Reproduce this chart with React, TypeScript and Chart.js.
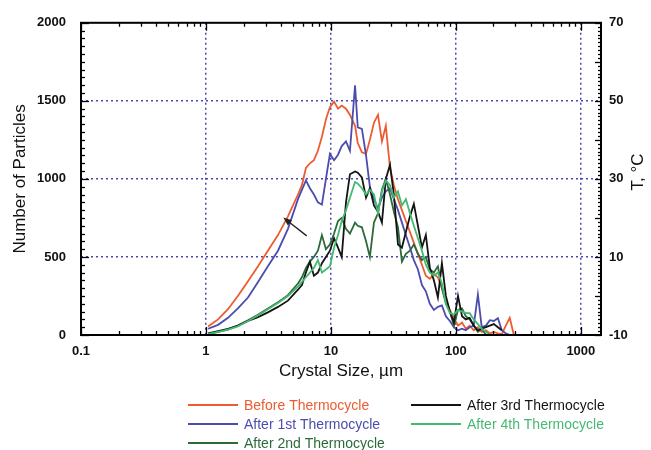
import React, { useEffect, useRef } from "react";
import { Chart, registerables } from "chart.js";

Chart.register(...registerables);

// Crystal size bins (µm)
const sizes = [
  1.04, 1.25, 1.5, 1.8, 2.17, 2.61, 3.13, 3.77, 4.53, 5.45,
  5.86, 6.31, 6.79, 7.31, 7.87, 8.47, 9.12, 9.82, 10.6, 11.4,
  12.2, 13.2, 14.2, 15.6, 16.4, 17.7, 19.1, 20.5, 22.1, 23.8,
  25.6, 27.5, 29.7, 31.9, 34.4, 37.0, 39.8, 42.9, 46.1, 49.7,
  53.5, 57.5, 61.9, 66.7, 71.8, 77.3, 83.2, 89.5, 96.4, 104,
  112, 120, 129, 139, 150, 161, 174, 187, 201, 217,
  233, 251, 270, 291,
];

const beforeThermocycle = [
  55, 100, 165, 250, 345, 440, 540, 640, 760, 900,
  960, 1070, 1100, 1120, 1180, 1270, 1380, 1460, 1495, 1450,
  1470, 1450, 1410, 1340, 1230, 1170, 1160, 1250, 1360, 1410,
  1240, 1340, 1070, 960, 870, 800, 730, 660, 590, 520,
  450, 380, 360, 390, 370, 300, 220, 160, 110, 60,
  80, 40, 60, 30, 50, 20, 30, 10, 20, 10,
  5, 60, 110, 0,
];

const after1st = [
  40, 65, 110, 170, 240, 340, 440, 540, 680, 870,
  930, 990, 940, 900, 850, 835, 1000, 1160, 1120, 1155,
  1210, 1240, 1180, 1600, 1330, 1320, 1150, 950, 870, 810,
  880, 920, 940, 870, 800, 720, 640, 560, 480, 420,
  320, 280, 200, 160, 180, 190, 120, 90, 50, 30,
  40, 30, 50, 60, 260, 50, 60, 95, 90, 108,
  30, 10, 0, null,
];

const after2nd = [
  5, 20, 35, 60, 95, 130, 170, 210, 255, 330,
  370, 430, 470, 500, 540, 640, 550, 580, 650, 730,
  750, 680, 650, 720, 700, 690, 600, 500, 720, 780,
  930, 1000, 900, 790, 690, 470, 520, 540, 580, 520,
  480, 500, 420, 400, 440, 300, 200, 150, 60, 160,
  170, 120, 100, 60, 20, 40, 0, null, null, null,
  null, null, null, null,
];

const after3rd = [
  10, 25, 40, 60, 90, 115, 145, 180, 220, 290,
  320, 400, 470, 380, 400, 460, 500, 540, 620, 560,
  500, 850, 1030, 1048, 1040, 1010, 880, 940, 830, 790,
  720, 1000, 1090, 900, 580, 560, 660, 760, 840, 700,
  560, 640, 430, 350, 240, 460, 250, 150, 80, 250,
  120, 100, 110, 60, 30, 40, 50, 60, 70, 50,
  30, null, null, null,
];

const after4th = [
  5, 20, 35, 55, 90, 125, 165, 205, 250, 310,
  340, 370, 400, 430, 480, 400, 420, 440, 560, 640,
  730, 800, 880, 980, 970, 940, 900, 930, 900, 780,
  920, 990, 960, 880, 920, 830, 870, 780, 700, 620,
  540, 450, 400, 380, 400, 330, 200, 140, 130, 160,
  150, 140, 140, 100, 70, 40, 20, 0, null, null,
  null, null, null, null,
];

const seriesLabels = [
  "Before Thermocycle",
  "After 1st Thermocycle",
  "After 2nd Thermocycle",
  "After 3rd Thermocycle",
  "After 4th Thermocycle",
];
const seriesColors = ["#ee5b30", "#4b4cae", "#2c6a3a", "#141414", "#45b871"];

const xTickValues = [0.1, 1, 10, 100, 1000];
const xMin = 0.1;
const xMax = 1450;
const yMin = 0;
const yMax = 2000;
const yStep = 500;
const tMin = -10;
const tMax = 70;
const tStep = 20;

// annotation arrow (data coordinates)
const arrowFrom = { x: 6.4, y: 635 };
const arrowTo = { x: 4.16, y: 752 };

const FONT = "'Liberation Sans', Arial, Helvetica, sans-serif";
const GRID = "#4848b0";

const framePlugin = {
  id: "frame",
  afterDatasetsDraw(chart: any) {
    const { ctx, chartArea: a, scales } = chart;
    const xs = scales.x, ys = scales.y, ts = scales.y2;
    ctx.save();
    ctx.strokeStyle = "#000";
    ctx.lineWidth = 1.3;
    // left / right ticks
    for (let v = yMin; v <= yMax; v += 50) {
      const y = Math.round(ys.getPixelForValue(v)) + 0.5;
      const len = v % 500 === 0 ? 8 : 4;
      ctx.beginPath();
      ctx.moveTo(a.left, y);
      ctx.lineTo(a.left + len, y);
      ctx.stroke();
    }
    for (let t = tMin; t <= tMax; t += 1) {
      const y = Math.round(ts.getPixelForValue(t)) + 0.5;
      const len = t % 10 === 0 ? 6 : 3;
      ctx.beginPath();
      ctx.moveTo(a.right, y);
      ctx.lineTo(a.right - len, y);
      ctx.stroke();
    }
    // top / bottom log ticks
    for (let d = 0.1; d < xMax; d *= 10) {
      for (let m = 1; m <= 9; m++) {
        const v = d * m;
        if (v > xMax) break;
        const x = Math.round(xs.getPixelForValue(v)) + 0.5;
        const len = m === 1 ? 8 : 4;
        ctx.beginPath();
        ctx.moveTo(x, a.top);
        ctx.lineTo(x, a.top + len);
        ctx.moveTo(x, a.bottom);
        ctx.lineTo(x, a.bottom - len);
        ctx.stroke();
      }
    }
    // frame
    ctx.lineWidth = 2;
    ctx.strokeRect(a.left, a.top, a.right - a.left, a.bottom - a.top);

    // arrow
    const x1 = xs.getPixelForValue(arrowFrom.x), y1 = ys.getPixelForValue(arrowFrom.y);
    const x2 = xs.getPixelForValue(arrowTo.x), y2 = ys.getPixelForValue(arrowTo.y);
    const ang = Math.atan2(y2 - y1, x2 - x1);
    ctx.strokeStyle = "#222";
    ctx.fillStyle = "#222";
    ctx.lineWidth = 1.3;
    ctx.beginPath();
    ctx.moveTo(x1, y1);
    ctx.lineTo(x2 - 4 * Math.cos(ang), y2 - 4 * Math.sin(ang));
    ctx.stroke();
    ctx.beginPath();
    ctx.moveTo(x2, y2);
    ctx.lineTo(x2 - 9 * Math.cos(ang - 0.38), y2 - 9 * Math.sin(ang - 0.38));
    ctx.lineTo(x2 - 9 * Math.cos(ang + 0.38), y2 - 9 * Math.sin(ang + 0.38));
    ctx.closePath();
    ctx.fill();
    ctx.restore();
  },
  afterDraw(chart: any) {
    const { ctx } = chart;
    ctx.save();
    // right axis title
    ctx.translate(638, 172);
    ctx.rotate(-Math.PI / 2);
    ctx.font = `17px ${FONT}`;
    ctx.fillStyle = "#111";
    ctx.textAlign = "center";
    ctx.textBaseline = "middle";
    ctx.fillText("T, °C", 0, 0);
    ctx.restore();

    // legend (two columns)
    const slots = [
      [188, 405], [188, 424], [188, 443], [411, 405], [411, 424],
    ];
    const order = [0, 1, 2, 3, 4];
    ctx.save();
    ctx.font = `14px ${FONT}`;
    ctx.textBaseline = "middle";
    chart.data.datasets.forEach((ds: any, i: number) => {
      const [lx, ly] = slots[order[i]];
      ctx.strokeStyle = ds.borderColor;
      ctx.lineWidth = 2;
      ctx.beginPath();
      ctx.moveTo(lx, ly);
      ctx.lineTo(lx + 50, ly);
      ctx.stroke();
      ctx.fillStyle = ds.borderColor;
      ctx.fillText(ds.label, lx + 56, ly + 1);
    });
    ctx.restore();
  },
};

export default function App() {
  const ref = useRef<HTMLCanvasElement>(null);
  useEffect(() => {
    if (!ref.current) return;
    const all = [beforeThermocycle, after1st, after2nd, after3rd, after4th];
    const drawOrder = [5, 4, 3, 2, 1];
    const datasets = all.map((vals, i) => ({
      label: seriesLabels[i],
      data: sizes.map((x, j) => ({ x, y: vals[j] })),
      borderColor: seriesColors[i],
      backgroundColor: seriesColors[i],
      borderWidth: 1.8,
      pointRadius: 0,
      tension: 0,
      fill: false,
      spanGaps: false,
      order: drawOrder[i],
    }));
    const tickFont = { family: FONT, size: 13, weight: "bold" as const };
    const chart = new Chart(ref.current, {
      type: "line",
      data: { datasets },
      plugins: [framePlugin],
      options: {
        animation: false,
        responsive: false,
        layout: { padding: { top: 20, left: 0, right: 0, bottom: 0 } },
        plugins: { legend: { display: false }, tooltip: { enabled: false } },
        scales: {
          x: {
            type: "logarithmic",
            position: "bottom",
            min: xMin,
            max: xMax,
            afterBuildTicks: (s: any) => {
              s.ticks = xTickValues.map((v) => ({ value: v }));
            },
            afterFit: (s: any) => {
              s.height = 115;
            },
            ticks: {
              autoSkip: false,
              maxRotation: 0,
              padding: 9,
              color: "#111",
              font: tickFont,
              callback: (v: any) => String(v),
            },
            grid: {
              drawTicks: false,
              lineWidth: 1.5,
              color: (c: any) =>
                c.tick && (c.tick.value === xMin || c.tick.value === xMax) ? "rgba(0,0,0,0)" : GRID,
            },
            border: { display: false, dash: [2, 3] },
            title: {
              display: true,
              text: "Crystal Size, µm",
              color: "#111",
              font: { family: FONT, size: 17 },
              padding: { top: 0, bottom: 68 },
            },
          },
          y: {
            type: "linear",
            position: "left",
            min: yMin,
            max: yMax,
            afterFit: (s: any) => {
              s.width = 81;
            },
            ticks: {
              stepSize: yStep,
              padding: 15,
              color: "#111",
              font: tickFont,
              callback: (v: any) => String(v),
            },
            grid: {
              drawTicks: false,
              lineWidth: 1.5,
              color: (c: any) =>
                c.tick && (c.tick.value === yMin || c.tick.value === yMax) ? "rgba(0,0,0,0)" : GRID,
            },
            border: { display: false, dash: [2, 3] },
            title: {
              display: true,
              text: "Number of Particles",
              color: "#111",
              font: { family: FONT, size: 17 },
              padding: { top: 10, bottom: 0 },
            },
          },
          y2: {
            type: "linear",
            position: "right",
            min: tMin,
            max: tMax,
            afterFit: (s: any) => {
              s.width = 50;
            },
            ticks: {
              stepSize: tStep,
              padding: 8,
              color: "#111",
              font: tickFont,
              callback: (v: any) => String(v),
            },
            grid: { display: false, drawTicks: false },
            border: { display: false },
          },
        },
      },
    });
    return () => chart.destroy();
  }, []);
  return (
    <div style={{ position: "absolute", left: 0, top: 0, width: 651, height: 450, background: "#fff" }}>
      <canvas ref={ref} width={651} height={450} style={{ display: "block" }} />
    </div>
  );
}
